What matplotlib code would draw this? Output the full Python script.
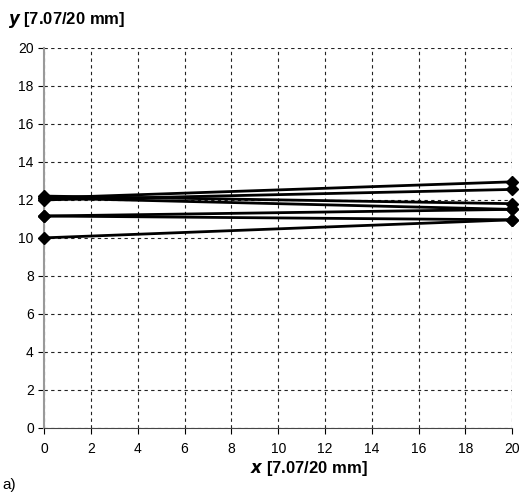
import matplotlib
matplotlib.use('Agg')
import matplotlib.pyplot as plt

plt.rcParams['font.family'] = ['Liberation Sans', 'DejaVu Sans']

# each sample: y at x=0 and y at x=20
x_ends = [0, 20]
y_start = [12.1, 12.0, 12.2, 12.1, 11.15, 11.15, 10.0]
y_end = [12.95, 12.55, 11.8, 11.5, 11.5, 10.95, 10.95]

xticks = list(range(0, 21, 2))
yticks = list(range(0, 21, 2))

fig = plt.figure(figsize=(5.2, 4.94), dpi=100)
ax = fig.add_axes([0.085, 0.134, 0.9, 0.769])

for y0, y1 in zip(y_start, y_end):
    ax.plot(x_ends, [y0, y1], color='black', linewidth=2, marker='D',
            markersize=6, clip_on=False, zorder=3)

ax.set_xlim(0, 20)
ax.set_ylim(0, 20)
ax.set_xticks(xticks)
ax.set_yticks(yticks)
ax.grid(True, color='#222222', linestyle=(0, (3, 3)), linewidth=0.8)
for s in ['top', 'right']:
    ax.spines[s].set_visible(False)
ax.spines['left'].set_color('#999999')
ax.spines['left'].set_linewidth(1.5)
ax.spines['bottom'].set_color('#444444')
ax.tick_params(direction='out', length=4, labelsize=10, colors='black')
ax.tick_params(axis='x', pad=6)

fig.text(0.015, 0.96, r'$\boldsymbol{y}$ [7.07/20 mm]', fontsize=12, fontweight='bold',
         ha='left', va='center')
fig.text(0.595, 0.052, r'$\boldsymbol{x}$ [7.07/20 mm]', fontsize=12, fontweight='bold',
         ha='center', va='center')
fig.text(0.004, 0.018, 'a)', fontsize=11, ha='left', va='center')

fig.savefig('out.png', dpi=100)
